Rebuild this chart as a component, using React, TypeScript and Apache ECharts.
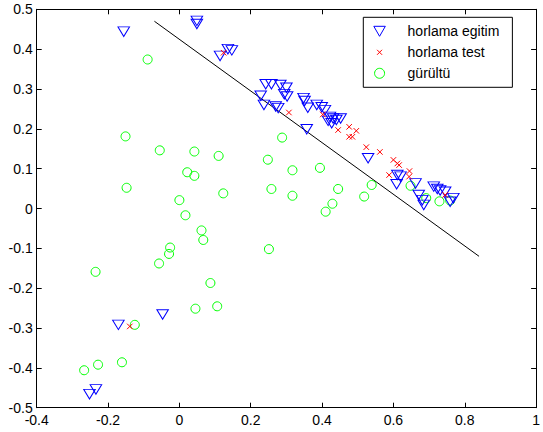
import React, { useEffect, useRef } from "react";
import * as echarts from "echarts";

const xTicks = { min: -0.4, max: 1, interval: 0.2 };
const yTicks = { min: -0.5, max: 0.5, interval: 0.1 };

const seriesNames = ["horlama egitim", "horlama test", "gürültü"];

const egitim: [number, number][] = [
  [-0.156, 0.444], [0.049, 0.471], [0.049, 0.463], [0.114, 0.383], [0.136, 0.4], [0.147, 0.397],
  [0.242, 0.312], [0.258, 0.312], [0.283, 0.31], [0.3, 0.303], [0.228, 0.283], [0.237, 0.26],
  [0.27, 0.256], [0.277, 0.252], [0.294, 0.287], [0.302, 0.281], [0.348, 0.277], [0.351, 0.27],
  [0.36, 0.253], [0.385, 0.26], [0.399, 0.254], [0.408, 0.247], [0.422, 0.23], [0.431, 0.226],
  [0.44, 0.222], [0.452, 0.226], [0.417, 0.22], [0.427, 0.214], [0.357, 0.199], [0.529, 0.126],
  [0.611, 0.084], [0.62, 0.08], [0.609, 0.061], [0.662, 0.063], [0.671, 0.034], [0.681, 0.021],
  [0.685, 0.009], [0.713, 0.055], [0.723, 0.049], [0.731, 0.045], [0.745, 0.042], [0.768, 0.026],
  [0.759, 0.017], [-0.171, -0.292], [-0.047, -0.266], [-0.252, -0.466], [-0.234, -0.454],
];

const test: [number, number][] = [
  [0.124, 0.391], [0.307, 0.241], [0.402, 0.236], [0.445, 0.197], [0.476, 0.205], [0.496, 0.195],
  [0.476, 0.18], [0.485, 0.18], [0.524, 0.154], [0.562, 0.142], [0.6, 0.122], [0.611, 0.113],
  [0.616, 0.109], [0.588, 0.084], [0.645, 0.094], [0.644, 0.08], [0.745, 0.034], [-0.139, -0.296],
];

const gurultu: [number, number][] = [
  [-0.089, 0.374], [-0.151, 0.181], [-0.055, 0.146], [0.042, 0.143], [0.11, 0.132], [-0.148, 0.052],
  [0.022, 0.091], [0.042, 0.082], [0.123, 0.038], [0.0, 0.021], [0.017, -0.017], [0.062, -0.055],
  [0.067, -0.079], [-0.026, -0.098], [-0.029, -0.114], [-0.057, -0.138], [-0.235, -0.159],
  [0.087, -0.187], [0.045, -0.2515], [0.106, -0.2455], [-0.125, -0.292], [-0.161, -0.386],
  [-0.228, -0.392], [-0.267, -0.406], [0.288, 0.178], [0.248, 0.1225], [0.317, 0.096],
  [0.394, 0.102], [0.258, 0.049], [0.317, 0.032], [0.445, 0.049], [0.429, 0.012], [0.41, -0.008],
  [0.251, -0.102], [0.518, 0.03], [0.539, 0.059], [0.648, 0.057], [0.692, 0.026], [0.729, 0.018],
  [0.759, 0.02],
];

const boundaryLine: [number, number][] = [
  [-0.07, 0.47],
  [0.84, -0.12],
];

const BLUE = "#0000ff";
const RED = "#ff0000";
const GREEN = "#00ff00";
const FONT = "Liberation Sans, Arial, sans-serif";

const TRI = "path://M0,0L12,0L6,10.4Z";
const CROSS = "path://M0,0L10,10M10,0L0,10";
const CROSS_LEGEND = "path://M0,0L0.01,0M10,10L10.01,10M2.5,2.5L7.5,7.5M7.5,2.5L2.5,7.5";

export default function App() {
  const ref = useRef<HTMLDivElement>(null);
  useEffect(() => {
    if (!ref.current) return;
    const chart = echarts.init(ref.current, undefined, { renderer: "svg" });
    const axisLine = { show: true, onZero: false, lineStyle: { color: "#000", width: 1 } };
    const tick = { show: true, inside: true, length: 5, lineStyle: { color: "#000", width: 1 } };
    const label = { color: "#000", fontSize: 14, fontFamily: FONT };
    chart.setOption({
      animation: false,
      backgroundColor: "#fff",
      grid: { left: 36.7, right: 1, top: 9.3, bottom: 24.3, containLabel: false },
      xAxis: [
        { type: "value", ...xTicks, position: "bottom", axisLine, axisTick: tick,
          axisLabel: { ...label, margin: 5 }, splitLine: { show: false } },
        { type: "value", ...xTicks, position: "top", axisLine, axisTick: tick,
          axisLabel: { show: false }, splitLine: { show: false } },
      ],
      yAxis: [
        { type: "value", ...yTicks, position: "left", axisLine, axisTick: tick,
          axisLabel: { ...label, margin: 4 }, splitLine: { show: false } },
        { type: "value", ...yTicks, position: "right", axisLine, axisTick: tick,
          axisLabel: { show: false }, splitLine: { show: false } },
      ],
      legend: {
        orient: "vertical",
        left: 363.3,
        top: 17.3,
        padding: [7, 13, 7, 10],
        itemGap: 7,
        itemWidth: 46,
        itemHeight: 10,
        borderColor: "#000",
        borderWidth: 1,
        borderRadius: 0,
        backgroundColor: "#fff",
        textStyle: { color: "#000", fontSize: 14, fontFamily: FONT },
        data: [
          { name: seriesNames[0], icon: TRI, itemStyle: { color: "transparent", borderColor: BLUE, borderWidth: 1 } },
          { name: seriesNames[1], icon: CROSS_LEGEND, itemStyle: { color: "transparent", borderColor: RED, borderWidth: 1 } },
          { name: seriesNames[2], icon: "circle", itemStyle: { color: "transparent", borderColor: GREEN, borderWidth: 1 } },
        ],
      },
      series: [
        {
          name: "boundary",
          type: "line",
          data: boundaryLine,
          symbol: "none",
          silent: true,
          lineStyle: { color: "#000", width: 1 },
          z: 1,
        },
        {
          name: seriesNames[2],
          type: "scatter",
          data: gurultu,
          symbol: "circle",
          symbolSize: 9,
          itemStyle: { color: "transparent", borderColor: GREEN, borderWidth: 1, opacity: 1 },
          z: 2,
        },
        {
          name: seriesNames[0],
          type: "scatter",
          data: egitim,
          symbol: TRI,
          symbolSize: [11.5, 9.5],
          itemStyle: { color: "transparent", borderColor: BLUE, borderWidth: 1, opacity: 1 },
          z: 3,
        },
        {
          name: seriesNames[1],
          type: "scatter",
          data: test,
          symbol: CROSS,
          symbolSize: 5.5,
          itemStyle: { color: "transparent", borderColor: RED, borderWidth: 1, opacity: 1 },
          z: 4,
        },
      ],
    });
    return () => chart.dispose();
  }, []);
  return (
    <div
      ref={ref}
      style={{ position: "fixed", left: 0, top: 0, width: 543, height: 432, background: "#fff" }}
    />
  );
}
